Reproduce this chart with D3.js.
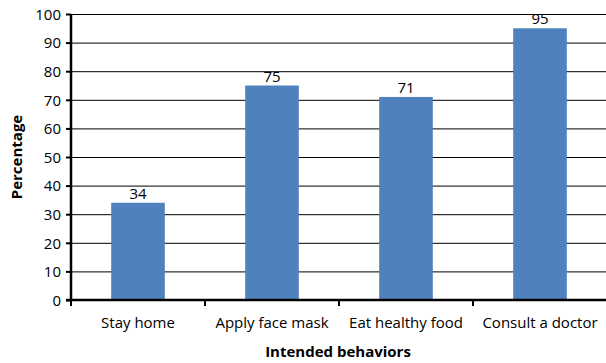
<!DOCTYPE html>
<html>
<head>
<meta charset="utf-8">
<script src="https://cdn.jsdelivr.net/npm/d3@7"></script>
<style>
  body { margin: 0; background: #fff; }
  text { font-family: "Open Sans", "Noto Sans", sans-serif; fill: #000; }
</style>
</head>
<body>
<div id="chart"></div>
<script>
var categories = ["Stay home", "Apply face mask", "Eat healthy food", "Consult a doctor"];
var values = [34, 75, 71, 95];
var yTicks = [0, 10, 20, 30, 40, 50, 60, 70, 80, 90, 100];

var width = 606,
    height = 363,
    margin = {top: 14, right: 0, bottom: 63, left: 71};

var svg = d3.select("#chart").append("svg")
  .attr("width", width)
  .attr("height", height);

var x = d3.scaleBand()
  .domain(categories)
  .range([margin.left, 607])
  .paddingInner(0.6)
  .paddingOuter(0.3);

// band boundaries for the category ticks
var step = x.step();
var x0 = margin.left;

var y = d3.scaleLinear()
  .domain([0, 100])
  .range([300, margin.top]);

// gridlines
svg.append("g")
  .selectAll("line")
  .data(yTicks.slice(1))
  .enter().append("line")
  .attr("x1", margin.left)
  .attr("x2", width)
  .attr("y1", function(d){ return y(d) + 0.5; })
  .attr("y2", function(d){ return y(d) + 0.5; })
  .style("stroke", "#000")
  .style("stroke-width", 1);

// bars
svg.append("g")
  .selectAll("rect")
  .data(values)
  .enter().append("rect")
  .attr("x", function(d, i){ return x(categories[i]); })
  .attr("y", function(d){ return y(d); })
  .attr("width", x.bandwidth())
  .attr("height", function(d){ return y(0) - y(d); })
  .style("fill", "#4F81BD");

// value labels
svg.append("g")
  .selectAll("text")
  .data(values)
  .enter().append("text")
  .attr("x", function(d, i){ return x(categories[i]) + x.bandwidth() / 2; })
  .attr("y", function(d){ return y(d) - 4; })
  .attr("text-anchor", "middle")
  .style("font-size", "15px")
  .text(function(d){ return d; });

// y axis
var yAxis = svg.append("g")
  .attr("transform", "translate(" + margin.left + ",0)")
  .call(d3.axisLeft(y).tickValues(yTicks).tickSize(5).tickPadding(5));
yAxis.select(".domain").remove();
yAxis.selectAll(".tick line").style("stroke", "#000").style("stroke-width", 2);
yAxis.selectAll(".tick text").style("font-size", "15px").attr("dy", "0.35em")
  .style("font-family", "\"Open Sans\", sans-serif");
svg.append("line")
  .attr("x1", margin.left).attr("x2", margin.left)
  .attr("y1", margin.top).attr("y2", y(0) + 1)
  .style("stroke", "#000").style("stroke-width", 2.5);

// x axis
svg.append("line")
  .attr("x1", margin.left - 5).attr("x2", width)
  .attr("y1", y(0)).attr("y2", y(0))
  .style("stroke", "#000").style("stroke-width", 2.5);

svg.append("g")
  .selectAll("line")
  .data(d3.range(categories.length + 1))
  .enter().append("line")
  .attr("x1", function(i){ return x0 + i * step; })
  .attr("x2", function(i){ return x0 + i * step; })
  .attr("y1", y(0))
  .attr("y2", y(0) + 6)
  .style("stroke", "#000")
  .style("stroke-width", 2);

svg.append("g")
  .selectAll("text")
  .data(categories)
  .enter().append("text")
  .attr("x", function(d){ return x(d) + x.bandwidth() / 2; })
  .attr("y", 328)
  .attr("text-anchor", "middle")
  .style("font-size", "15px")
  .text(function(d){ return d; });

// axis titles
svg.append("text")
  .attr("x", 338)
  .attr("y", 357)
  .attr("text-anchor", "middle")
  .style("font-size", "15px")
  .style("font-weight", "bold")
  .text("Intended behaviors");

svg.append("text")
  .attr("transform", "translate(22,157) rotate(-90)")
  .attr("text-anchor", "middle")
  .style("font-size", "15px")
  .style("font-weight", "bold")
  .text("Percentage");
</script>
</body>
</html>
